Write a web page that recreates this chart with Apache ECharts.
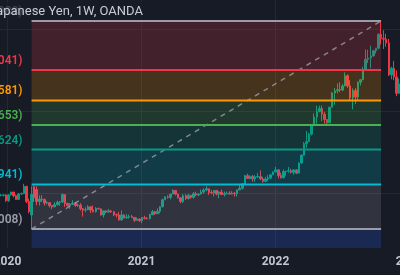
<!DOCTYPE html>
<html><head><meta charset="utf-8">
<script src="https://cdn.jsdelivr.net/npm/echarts@6/dist/echarts.min.js"></script>
<style>html,body{margin:0;padding:0;background:#171b26;}#c{width:400px;height:275px;}</style>
</head><body><div id="c"></div>
<script>
// ---- data ----
const titleText = 'U.S. Dollar / Japanese Yen, 1W, OANDA';
const yearTicks = ['2020-01-01', '2021-01-01', '2022-01-01', '2023-01-01'];
const yearLabels = ['2020', '2021', '2022', '2023'];
const priceGrid = [110, 130, 150];

const fibStartDate = '2020-03-09';
const fibEndDate = '2022-10-17';
const fibHigh = 151.95;
const fibLow = 101.18;
const fibRatios = [0, 0.236, 0.382, 0.5, 0.618, 0.786, 1, 1.618];
const fibLabels = ['0(151.988)', '0.236(140.041)', '0.382(132.581)', '0.5(126.653)', '0.618(120.624)', '0.786(111.941)', '1(101.008)', '1.618(69.627)'];
const fibColors = ['#9a9da6', '#f23645', '#ff9800', '#4caf50', '#089981', '#00bcd4', '#9a9da6', '#2962ff'];

const weekStarts = [
'2019-12-02','2019-12-09','2019-12-16','2019-12-23','2019-12-30',
'2020-01-06','2020-01-13','2020-01-20','2020-01-27','2020-02-03','2020-02-10','2020-02-17','2020-02-24',
'2020-03-02','2020-03-09','2020-03-16','2020-03-23','2020-03-30','2020-04-06','2020-04-13','2020-04-20','2020-04-27',
'2020-05-04','2020-05-11','2020-05-18','2020-05-25','2020-06-01','2020-06-08','2020-06-15','2020-06-22','2020-06-29',
'2020-07-06','2020-07-13','2020-07-20','2020-07-27','2020-08-03','2020-08-10','2020-08-17','2020-08-24','2020-08-31',
'2020-09-07','2020-09-14','2020-09-21','2020-09-28','2020-10-05','2020-10-12','2020-10-19','2020-10-26',
'2020-11-02','2020-11-09','2020-11-16','2020-11-23','2020-11-30','2020-12-07','2020-12-14','2020-12-21','2020-12-28',
'2021-01-04','2021-01-11','2021-01-18','2021-01-25','2021-02-01','2021-02-08','2021-02-15','2021-02-22',
'2021-03-01','2021-03-08','2021-03-15','2021-03-22','2021-03-29','2021-04-05','2021-04-12','2021-04-19','2021-04-26',
'2021-05-03','2021-05-10','2021-05-17','2021-05-24','2021-05-31','2021-06-07','2021-06-14','2021-06-21','2021-06-28',
'2021-07-05','2021-07-12','2021-07-19','2021-07-26','2021-08-02','2021-08-09','2021-08-16','2021-08-23','2021-08-30',
'2021-09-06','2021-09-13','2021-09-20','2021-09-27','2021-10-04','2021-10-11','2021-10-18','2021-10-25',
'2021-11-01','2021-11-08','2021-11-15','2021-11-22','2021-11-29','2021-12-06','2021-12-13','2021-12-20','2021-12-27',
'2022-01-03','2022-01-10','2022-01-17','2022-01-24','2022-01-31','2022-02-07','2022-02-14','2022-02-21','2022-02-28',
'2022-03-07','2022-03-14','2022-03-21','2022-03-28','2022-04-04','2022-04-11','2022-04-18','2022-04-25',
'2022-05-02','2022-05-09','2022-05-16','2022-05-23','2022-05-30','2022-06-06','2022-06-13','2022-06-20','2022-06-27',
'2022-07-04','2022-07-11','2022-07-18','2022-07-25','2022-08-01','2022-08-08','2022-08-15','2022-08-22','2022-08-29',
'2022-09-05','2022-09-12','2022-09-19','2022-09-26','2022-10-03','2022-10-10','2022-10-17','2022-10-24','2022-10-31',
'2022-11-07','2022-11-14','2022-11-21','2022-11-28','2022-12-05','2022-12-12'
];
// [open, close, low, high]
const ohlc = [
[108.9,108.6,108.4,109.1],[108.6,109.4,108.4,109.7],[109.3,109.4,109.2,109.7],[109.4,109.5,109.1,109.6],[109.5,108.1,107.8,109.6],
[108.1,109.5,107.8,109.7],[109.5,110.2,109.4,110.3],[110.2,109.3,108.9,110.2],[109.3,108.4,108.3,109.6],[108.4,109.7,108.3,110.0],[109.7,109.8,109.6,110.1],[109.8,111.6,109.7,112.2],[111.6,107.9,107.5,111.7],
[107.9,105.4,105.0,108.6],[104.6,109.6,101.18,111.6],[111.5,108.8,107.8,111.7],[110.8,107.9,107.0,111.6],[107.9,108.5,106.9,109.4],[108.5,108.4,107.8,109.4],[108.4,107.5,106.9,108.6],[107.5,107.6,107.2,108.0],[107.6,106.9,106.4,107.6],
[106.9,106.6,106.0,107.0],[106.6,107.1,106.5,107.7],[107.1,107.7,106.9,108.1],[107.7,107.8,106.9,108.0],[107.8,109.6,107.5,109.85],[109.6,107.4,106.6,109.6],[107.4,106.9,106.7,107.6],[106.9,107.2,106.1,107.5],[107.2,107.5,107.0,108.2],
[107.5,106.9,106.6,107.8],[106.9,107.0,106.6,107.4],[107.0,106.1,105.7,107.5],[106.1,105.8,104.2,106.3],[105.8,105.9,105.3,106.5],[105.9,106.6,105.8,107.0],[106.6,105.8,105.1,106.6],[105.8,105.4,105.2,106.9],[105.4,106.2,105.2,106.5],
[106.2,106.1,105.9,106.4],[106.1,104.6,104.5,106.1],[104.6,105.6,104.0,105.7],[105.6,105.3,105.0,105.8],[105.3,105.6,105.2,106.1],[105.6,105.4,105.1,105.8],[105.4,104.7,104.3,105.5],[104.7,104.6,104.0,104.9],
[104.6,103.4,103.2,105.3],[103.4,104.6,103.2,105.7],[104.6,103.9,103.7,104.8],[103.9,104.1,103.7,104.8],[104.1,104.2,103.7,104.7],[104.2,104.0,103.9,104.6],[104.0,103.3,102.9,104.1],[103.3,103.6,103.2,104.0],[103.6,103.2,102.9,103.8],
[103.2,103.9,102.6,104.1],[103.9,103.8,103.5,104.4],[103.8,103.7,103.5,104.1],[103.7,104.7,103.5,104.9],[104.7,105.4,104.5,105.8],[105.4,104.9,104.6,105.6],[104.9,105.5,104.9,106.2],[105.5,106.6,105.0,106.7],
[106.6,108.3,106.5,108.6],[108.3,109.0,108.3,109.2],[109.0,108.9,108.6,109.4],[108.9,109.7,108.4,109.8],[109.7,110.6,109.7,110.9],[110.6,109.7,109.4,110.7],[109.7,108.8,108.6,109.8],[108.8,107.9,107.5,108.9],[107.9,109.3,107.5,109.7],
[109.3,108.6,108.3,109.7],[108.6,109.4,108.4,109.8],[109.4,108.9,108.6,109.4],[108.9,109.8,108.6,110.2],[109.8,109.5,109.2,110.3],[109.5,109.7,109.2,109.9],[109.7,110.2,109.6,110.8],[110.2,110.7,109.8,111.1],[110.7,111.0,110.4,111.6],
[111.0,110.1,109.5,111.0],[110.1,110.0,109.7,110.7],[110.0,110.6,109.1,110.6],[110.6,109.7,109.4,110.6],[109.7,110.2,108.7,110.4],[110.2,109.6,109.5,110.8],[109.6,109.8,109.1,110.3],[109.8,109.9,109.6,110.3],[109.9,109.7,109.6,110.4],
[109.7,109.9,109.6,110.4],[109.9,109.8,109.1,110.2],[109.8,110.7,109.1,110.8],[110.7,111.1,110.7,112.1],[111.1,112.2,110.8,112.4],[112.2,114.2,112.2,114.4],[114.2,113.5,113.4,114.7],[113.5,114.0,113.3,114.3],
[114.0,113.4,112.7,114.4],[113.4,113.9,112.7,114.3],[113.9,114.0,113.6,114.9],[114.0,113.4,113.1,115.5],[113.4,112.8,112.5,113.9],[112.8,113.4,112.7,113.9],[113.4,113.6,112.9,114.3],[113.6,114.4,113.5,114.5],[114.4,115.1,114.4,115.2],
[115.1,115.6,115.0,116.35],[115.6,114.2,113.5,115.8],[114.2,113.7,113.5,114.9],[113.7,115.2,113.5,115.7],[115.2,115.3,114.2,115.4],[115.3,115.4,114.9,116.3],[115.4,115.0,114.7,115.9],[115.0,115.6,114.4,115.8],[115.6,114.8,114.6,115.8],
[114.8,117.3,114.8,117.4],[117.3,119.2,117.1,119.4],[119.2,122.0,119.1,122.4],[122.0,122.5,121.0,125.1],[122.5,124.3,122.4,124.7],[124.3,126.4,124.0,126.7],[126.4,128.5,126.3,129.4],[128.5,129.8,126.9,131.25],
[129.8,130.6,129.7,131.3],[130.6,129.2,127.5,131.3],[129.2,127.9,126.9,129.8],[127.9,127.1,126.3,128.0],[127.1,130.9,127.1,131.0],[130.9,134.4,130.9,134.6],[134.4,134.9,131.5,135.6],[134.9,135.2,134.3,136.7],[135.2,135.1,134.6,137.0],
[135.1,136.1,134.8,136.6],[136.1,138.6,136.0,139.4],[138.6,136.1,135.6,138.9],[136.1,133.2,132.5,137.5],[133.2,135.0,130.4,135.5],[135.0,133.4,131.7,135.6],[133.4,137.0,132.6,137.2],[137.0,137.6,136.2,137.7],[137.6,140.2,137.5,140.8],
[140.2,142.6,140.0,145.0],[142.6,142.9,141.7,144.9],[142.9,143.4,140.4,145.9],[143.4,144.7,143.3,144.9],[144.7,145.3,144.0,145.4],[145.3,148.7,145.0,148.9],[148.7,147.7,146.2,151.95],[147.7,147.5,145.1,149.7],[147.5,146.6,145.7,148.8],
[146.6,138.8,138.5,147.6],[138.8,140.4,137.7,140.8],[140.4,138.3,137.5,142.2],[138.3,134.3,133.6,139.9],[134.3,136.6,134.1,137.9],[136.6,136.7,133.6,138.2]
];

// ---- chart ----
const BG = '#171b26';
const chart = echarts.init(document.getElementById('c'), null, {renderer: 'canvas'});
const t = d => +new Date(d + 'T00:00:00Z');
const candleData = weekStarts.map((d, i) => [t(d), ohlc[i][0], ohlc[i][1], ohlc[i][2], ohlc[i][3]]);
const FONT = 'Roboto, "Noto Sans", sans-serif';

function hexA(hex, a) {
  const n = parseInt(hex.slice(1), 16);
  return 'rgba(' + (n >> 16) + ',' + ((n >> 8) & 255) + ',' + (n & 255) + ',' + a + ')';
}

function renderGrid(params, api) {
  const cs = params.coordSys;
  const children = [];
  priceGrid.forEach(p => {
    const y = Math.round(api.coord([t(yearTicks[0]), p])[1]) + 0.5;
    children.push({type: 'line', shape: {x1: cs.x, y1: y, x2: cs.x + cs.width, y2: y},
      style: {stroke: '#242835', lineWidth: 1}});
  });
  yearTicks.forEach((d, i) => {
    const x = Math.round(api.coord([t(d), priceGrid[0]])[0]) + 0.5;
    children.push({type: 'line', shape: {x1: x, y1: cs.y, x2: x, y2: cs.y + cs.height},
      style: {stroke: '#242835', lineWidth: 1}});
    children.push({type: 'text', x: x, y: cs.y + cs.height + 14,
      style: {text: yearLabels[i], fill: '#c3c6ce', font: 'bold 12px ' + FONT, align: 'center', verticalAlign: 'middle'}});
  });
  return {type: 'group', children: children};
}

function renderFib(params, api) {
  const cs = params.coordSys;
  const bottom = cs.y + cs.height;
  const x0 = api.coord([t(fibStartDate), fibLow])[0];
  const x1 = api.coord([t(fibEndDate), fibHigh])[0];
  const ys = fibRatios.map(r => api.coord([t(fibStartDate), fibHigh - r * (fibHigh - fibLow)])[1]);
  const children = [];
  for (let i = 1; i < fibRatios.length; i++) {
    const yA = ys[i - 1], yB = Math.min(ys[i], bottom);
    children.push({type: 'rect', shape: {x: x0, y: yA, width: x1 - x0, height: yB - yA},
      style: {fill: hexA(fibColors[i], 0.2)}});
  }
  children.push({type: 'line', shape: {x1: x0, y1: ys[6], x2: x1, y2: ys[0]},
    style: {stroke: 'rgba(160,163,172,0.75)', lineWidth: 1.5, lineDash: [5, 5]}});
  for (let i = 0; i < fibRatios.length; i++) {
    if (ys[i] > bottom) continue;
    children.push({type: 'line', shape: {x1: x0, y1: ys[i], x2: x1, y2: ys[i]},
      style: {stroke: fibColors[i], lineWidth: 2}});
    children.push({type: 'text', x: x0 - 9, y: ys[i] - 9,
      style: {text: fibLabels[i], fill: fibColors[i], font: '600 12px ' + FONT, align: 'right', verticalAlign: 'middle'}});
  }
  return {type: 'group', children: children};
}

const option = {
  backgroundColor: BG,
  animation: false,
  grid: {left: 0, right: 0, top: 0, bottom: 27, containLabel: false},
  xAxis: {type: 'time', min: t('2019-12-14'), max: +new Date('2022-12-07T14:00:00Z'),
    axisLabel: {show: false}, axisTick: {show: false}, axisLine: {show: false}, splitLine: {show: false}},
  yAxis: {type: 'value', min: 96.54, max: 157.07, scale: true,
    axisLabel: {show: false}, axisTick: {show: false}, axisLine: {show: false}, splitLine: {show: false}},
  series: [
    {type: 'custom', name: 'grid', renderItem: renderGrid, data: [[0]], z: 1, silent: true},
    {type: 'candlestick', name: 'USDJPY', data: candleData, encode: {x: 0, y: [1, 2, 3, 4]},
      barWidth: 2, z: 2,
      itemStyle: {color: '#089981', color0: '#f23645', borderColor: '#089981', borderColor0: '#f23645', borderWidth: 1}},
    {type: 'custom', name: 'fib', renderItem: renderFib, data: [[0]], z: 3, silent: true}
  ],
  graphic: [
    {type: 'rect', left: 0, top: 2, shape: {width: 150, height: 18}, style: {fill: 'rgba(23,27,38,0.7)'}, z: 10},
    {type: 'text', x: 143, y: 12, z: 11,
      style: {text: titleText, fill: '#c9ccd4', font: '13px ' + FONT, align: 'right', verticalAlign: 'middle'}}
  ]
};
chart.setOption(option);
</script>
</body></html>
